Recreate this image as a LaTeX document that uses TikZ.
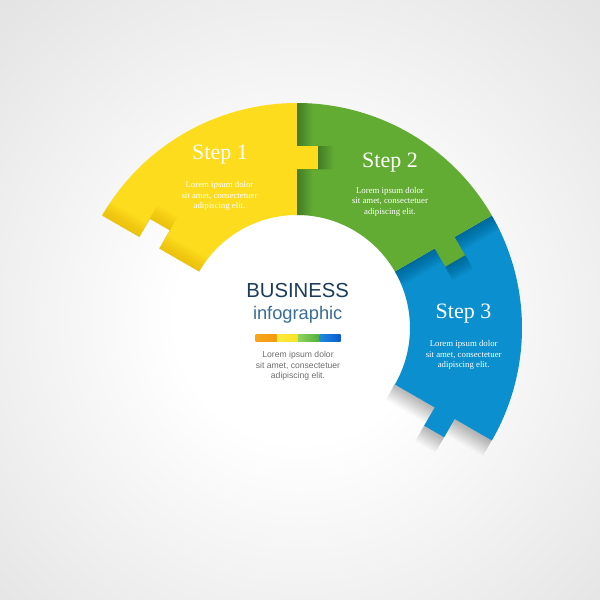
\documentclass[tikz,border=0pt]{standalone}
\usepackage{fontspec}
\setmainfont{Liberation Serif}
\setsansfont{Liberation Sans}
\definecolor{yellowc}{HTML}{FCDC1C}
\definecolor{greenc}{HTML}{62AC34}
\definecolor{bluec}{HTML}{0B8FCE}
\definecolor{navyc}{HTML}{1B3C5B}
\definecolor{infoc}{HTML}{3A6D97}
\definecolor{greyc}{HTML}{6E6E6E}
\definecolor{bgout}{HTML}{E3E3E3}
\definecolor{curlc}{HTML}{D9A000}
\definecolor{orA}{HTML}{F9A51A}
\definecolor{orB}{HTML}{F29A0E}
\definecolor{yeA}{HTML}{FFEA3E}
\definecolor{yeB}{HTML}{F8E228}
\definecolor{grA}{HTML}{8ED460}
\definecolor{grB}{HTML}{55AE3A}
\definecolor{blA}{HTML}{1E8BDD}
\definecolor{blB}{HTML}{0C5ACF}
\pgfdeclareradialshading{bgshade}{\pgfpoint{0bp}{0bp}}{color(0bp)=(white); color(7bp)=(white); color(25bp)=(bgout); color(50bp)=(bgout)}
\newcommand\ypiece{(150:225) arc[start angle=150,end angle=90,radius=225] -- (90:182) -- ++(0:21) -- ++(-90:23) -- ++(180:21) -- (90:113) arc[start angle=90,end angle=150,radius=113] -- (150:159) -- ++(60:21) -- ++(150:23) -- ++(240:21) -- cycle}
\newcommand\gpiece{(90:225) arc[start angle=90,end angle=30,radius=225] -- (30:182) -- ++(-60:21) -- ++(210:23) -- ++(120:21) -- (30:113) arc[start angle=30,end angle=90,radius=113] -- cycle}
\newcommand\bpiece{(30:225) arc[start angle=30,end angle=-30,radius=225] -- (-30:182) -- ++(-120:21) -- ++(150:23) -- ++(60:21) -- (-30:113) arc[start angle=-30,end angle=30,radius=113] -- cycle}
\newcommand\ybeyond{(150:100) -- (150:159) -- ++(60:21) -- ++(150:23) -- ++(240:21) -- (150:240) -- (175:240) -- (175:100) -- cycle}
\tikzset{
  steptitle/.style={text=white, font=\fontsize{12.5}{15}\selectfont, anchor=base, inner sep=0pt},
  steptext/.style={text=white, font=\fontsize{5}{6.1}\selectfont, align=center, inner sep=0pt},
  shadowstrip/.style={fill=black, opacity=0.016},
  barseg/.style={draw=none}
}
\begin{document}
\begin{tikzpicture}[x=0.02cm,y=0.02cm]
\useasboundingbox (-297,-272) rectangle (303,328);
\clip (-297,-272) rectangle (303,328);
% background
\shade[shading=bgshade] (-437,-430) rectangle (443,450);
% shadow of blue on background
\begin{scope}
  \clip (-30:100) -- (-30:262) arc[start angle=-30,end angle=-100,radius=262] -- (-100:100) -- cycle;
  \foreach \k in {1,2,...,18} {\fill[shadowstrip, shift={(-120:\k)}] \bpiece;}
\end{scope}
% blue piece
\fill[bluec] \bpiece;
\begin{scope}
  \clip \bpiece;
  \foreach \k in {1,2,...,16} {\fill[shadowstrip, shift={(-60:\k)}] \gpiece;}
\end{scope}
% green piece
\fill[greenc] \gpiece;
\begin{scope}
  \clip \gpiece;
  \foreach \k in {1,2,...,16} {\fill[shadowstrip, shift={(0:\k)}] \ypiece;}
\end{scope}
% yellow piece
\fill[yellowc] \ypiece;
\begin{scope}
  \clip \ypiece;
  \foreach \k in {1,2,...,16} {\fill[curlc, opacity=0.022, shift={(60:\k)}] \ybeyond;}
\end{scope}
% step texts
\node[steptitle] (s1) at (-77,169) {Step 1};
\node[steptext] (t1) at (-77.5,132) {Lorem ipsum dolor\\sit amet, consectetuer\\adipiscing elit.};
\node[steptitle] (s2) at (93,160.3) {Step 2};
\node[steptext] (t2) at (93,126.3) {Lorem ipsum dolor\\sit amet, consectetuer\\adipiscing elit.};
\node[steptitle] (s3) at (166.5,9.7) {Step 3};
\node[steptext] (t3) at (166.7,-27) {Lorem ipsum dolor\\sit amet, consectetuer\\adipiscing elit.};
% centre
\node[anchor=base, inner sep=0pt, text=navyc, font=\sffamily\fontsize{11.55}{14}\selectfont] (biz) at (0.7,30.7) {BUSINESS};
\node[anchor=base, inner sep=0pt, text=infoc, font=\sffamily\fontsize{10.4}{13}\selectfont] (info) at (0.7,9) {infographic};
\shade[barseg, left color=orA, right color=orB] (-41.3,-6.3) rectangle (-20.05,-13.7);
\shade[barseg, left color=yeA, right color=yeB] (-20.05,-6.3) rectangle (1.2,-13.7);
\shade[barseg, left color=grA, right color=grB] (1.2,-6.3) rectangle (22.45,-13.7);
\shade[barseg, left color=blA, right color=blB] (22.45,-6.3) rectangle (43.7,-13.7);
\node[inner sep=0pt, align=center, text=greyc, font=\sffamily\fontsize{4.9}{6.1}\selectfont] (ct) at (1,-38) {Lorem ipsum dolor\\sit amet, consectetuer\\adipiscing elit.};
\end{tikzpicture}
\end{document}
